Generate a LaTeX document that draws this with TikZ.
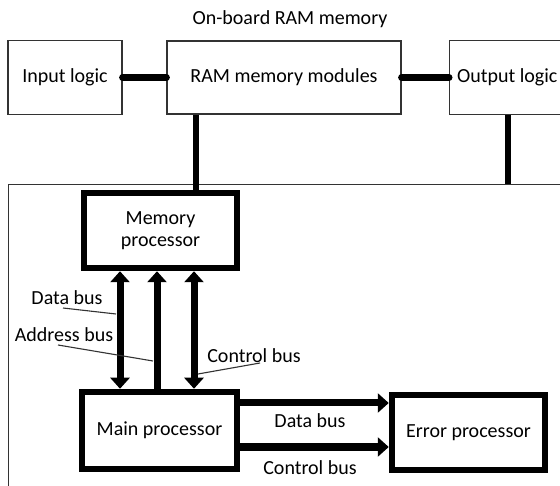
\documentclass[tikz,border=0pt]{standalone}
\usepackage{fontspec}
\setmainfont{Carlito}
\usetikzlibrary{arrows.meta}
\begin{document}
\begin{tikzpicture}[x=1pt,y=-1pt,
  every node/.style={font=\fontsize{20}{22}\selectfont, inner sep=0pt},
  thinbox/.style={draw=black!80, line width=1.2pt, rectangle},
  thickbox/.style={draw=black, line width=6.5pt, rectangle, fill=white},
  conn/.style={line width=7pt, line cap=round},
  vconn/.style={line width=6.5pt},
  bus/.style={line width=7pt, -{Triangle[width=19pt,length=11pt]}},
  busboth/.style={line width=7pt, {Triangle[width=19pt,length=11pt]}-{Triangle[width=19pt,length=11pt]}},
  leader/.style={draw=black!80, line width=1.1pt}
]
\clip (0,0) rectangle (560,486);
\fill[white] (0,0) rectangle (560,486);

% top row
\node (title) at (290,19) {On-board RAM memory};
\node[thinbox, minimum width=114pt, minimum height=74pt] (inlogic) at (65,77.5) {Input logic};
\node[thinbox, minimum width=234pt, minimum height=73pt] (ram) at (284,77.5) {RAM memory modules};
\node[thinbox, anchor=west, minimum width=160pt, minimum height=74pt] (outlogic) at (449,77.5) {};
\node[anchor=west] (outtxt) at (457,77.5) {Output logic};

% board
\node[thinbox, minimum width=600pt, minimum height=340pt, anchor=north west] (board) at (8,184) {};

% processors
\node[thickbox, minimum width=153pt, minimum height=75pt, align=center] (memproc) at (160.5,230.5) {Memory\\processor};
\node[thickbox, minimum width=155pt, minimum height=77pt] (mainproc) at (159.5,430.5) {Main processor};
\node[thickbox, minimum width=153pt, minimum height=75pt] (errproc) at (468.5,432.5) {Error processor};

% top connectors
\draw[conn] (inlogic) -- (ram);
\draw[conn] (ram) -- (outlogic);
\coordinate (xr) at (196,0);
\coordinate (xo) at (508,0);
\draw[vconn] (xr |- ram.south) -- (xr |- memproc.north);
\draw[vconn] (xo |- outlogic.south) -- (xo |- board.north);

% vertical buses
\coordinate (xd) at (120,0);
\coordinate (xa) at (157,0);
\coordinate (xc) at (194,0);
\draw[busboth] (xd |- memproc.south) -- (xd |- mainproc.north);
\draw[bus] (xa |- mainproc.north) -- (xa |- memproc.south);
\draw[busboth] (xc |- memproc.south) -- (xc |- mainproc.north);

% horizontal buses
\coordinate (yd) at (0,403);
\coordinate (yc) at (0,447);
\draw[bus] (mainproc.east |- yd) -- (errproc.west |- yd);
\draw[bus] (mainproc.east |- yc) -- (errproc.west |- yc);

% labels
\node (ldata) at (67,298) {Data bus};
\node (laddr) at (64,335) {Address bus};
\node (lctrl) at (254,356) {Control bus};
\node (ldata2) at (310,421) {Data bus};
\node (lctrl2) at (310,468) {Control bus};

% leader lines
\coordinate (ld0) at (63,308);
\coordinate (ld1) at (116,314);
\coordinate (la0) at (58,345);
\coordinate (la1) at (153,361);
\coordinate (lc0) at (198,374);
\coordinate (lc1) at (260,363);
\draw[leader] (ld0) -- (ld1);
\draw[leader] (la0) -- (la1);
\draw[leader] (lc0) -- (lc1);
\end{tikzpicture}
\end{document}
